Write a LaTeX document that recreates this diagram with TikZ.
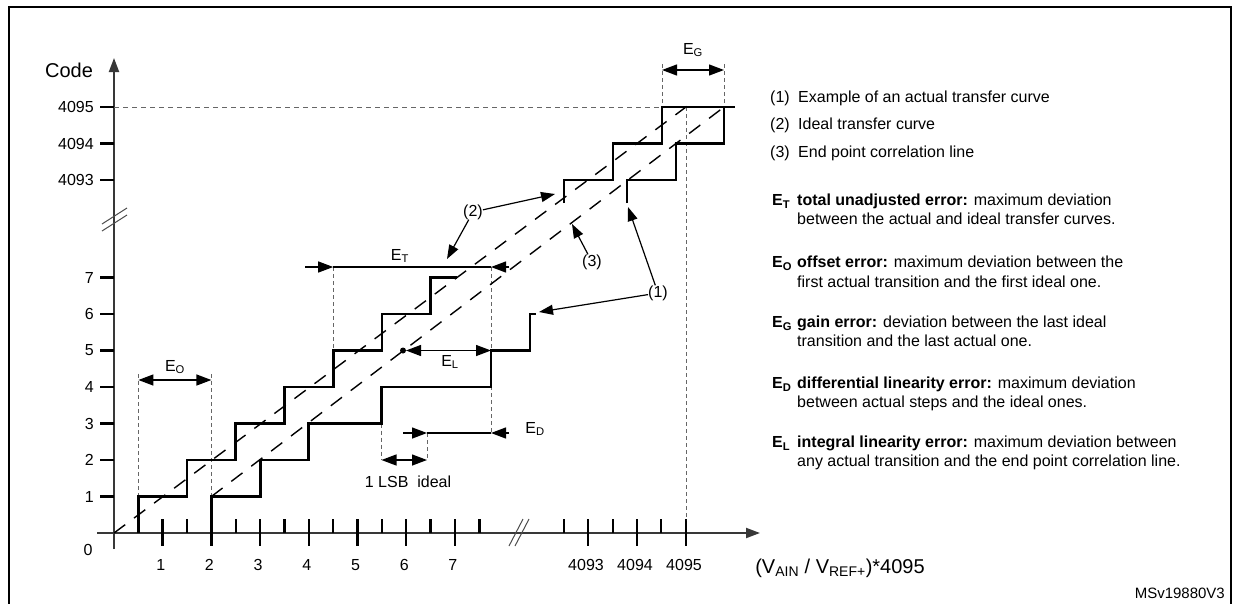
\documentclass[tikz,border=0pt]{standalone}
\usepackage{fontspec}
\setmainfont{Liberation Sans}
\usepackage{tikz}
\usetikzlibrary{arrows.meta}
\tikzset{axis/.style={draw=black!78, line width=2pt}}
\tikzset{stair/.style={draw=black, line width=2.8pt}}
\tikzset{guide/.style={draw=black!60, line width=1pt, dash pattern=on 4pt off 3pt}}
\tikzset{fitline/.style={draw=black, line width=1.4pt, dash pattern=on 14pt off 11pt}}
\tikzset{dim/.style={draw=black, line width=1.3pt}}
\tikzset{tipto/.style={-{Triangle[length=15pt, width=11pt]}}}
\tikzset{tipboth/.style={{Triangle[length=15pt, width=11pt]}-{Triangle[length=15pt, width=11pt]}}}
\tikzset{callout/.style={draw=black, line width=1.2pt, -{Triangle[length=14pt, width=10pt]}}}
\tikzset{lbl/.style={inner sep=0pt, font=\fontsize{16}{19}\selectfont}}
\tikzset{legtext/.style={anchor=base west, inner sep=0pt, font=\fontsize{16}{19}\selectfont}}

\begin{document}
\begin{tikzpicture}[x=1pt, y=-1pt]
		\useasboundingbox (0,0) rectangle (1236,603);
		\draw[line width=2.8pt] (9,604) -- (9,7) -- (1231,7) -- (1231,604);
		
		% axes
		\coordinate (ybot) at (114,549);
		\coordinate (ytop) at (114,58);
		\coordinate (xleft) at (97,533);
		\coordinate (xright) at (760,533);
		\draw[axis, -{Triangle[length=14pt, width=10pt]}] (ybot) -- (ytop);
		\draw[axis, -{Triangle[length=14pt, width=10pt]}] (xleft) -- (xright);
		\node[lbl, font=\fontsize{20}{24}\selectfont] (code) at (69,70) {Code};
		\node[lbl] (yzero) at (88,550) {0};
		\foreach \v/\y in {1/496.5, 2/460, 3/423.5, 4/387, 5/350.5, 6/314, 7/277.5, 4093/180, 4094/143.5, 4095/107} {
			\draw[line width=2.5pt] (100,\y) -- (114,\y);
			\node[lbl, anchor=east] (ylab\v) at (94,\y) {\v};
		}
		\foreach \v/\x in {1/162.7, 2/211.4, 3/260.1, 4/308.8, 5/357.5, 6/406.2, 7/454.9, 4093/588, 4094/637, 4095/686} {
			\draw[line width=2.5pt] (\x,519) -- (\x,546);
			\node[lbl] (xlab\v) at ([xshift=-2pt]\x,565) {\v};
		}
		\foreach \x in {138.4, 187, 235.8, 284.5, 333.2, 381.9, 430.6, 479.3, 564, 613, 661} {
			\draw[line width=2.5pt] (\x,519) -- (\x,533);
		}
		\draw[black!70, line width=1pt] (102,231) -- (127,215) (102,224) -- (127,208);
		\draw[black!70, line width=1pt] (509,546) -- (523,519) (515,546) -- (529,519);
		\node[lbl, font=\fontsize{20}{24}\selectfont] (xtitle) at (840,568) {(V\textsubscript{AIN} / V\textsubscript{REF+})*4095};
		
		% guides
		\draw[guide, dash pattern=on 5pt off 4pt] (114,107) -- (724,107);
		\draw[guide] (138.4,374) -- (138.4,496.5);
		\draw[guide] (211.4,374) -- (211.4,496.5);
		\draw[guide] (333.2,267) -- (333.2,350.5);
		\draw[guide] (491,267) -- (491,433);
		\draw[guide] (381.5,423.5) -- (381.5,460);
		\draw[guide] (427,433) -- (427,460);
		\draw[guide] (662,64) -- (662,107);
		\draw[guide] (724,64) -- (724,107);
		\draw[guide] (686,107) -- (686,520);
		
		% straight lines
		\coordinate (idealA) at (114,533);
		\coordinate (idealB) at (690,104);
		\coordinate (endA) at (211.4,496.5);
		\coordinate (endB) at (724,107);
		\draw[fitline] (idealA) -- (idealB);
		\draw[fitline] (endA) -- (endB);
		
		% staircases
		\draw[stair] (138.4,533) -- (138.4,496.5) -- (187,496.5) -- (187,460) -- (235.8,460) -- (235.8,423.5) -- (284.5,423.5) -- (284.5,387) -- (333.2,387) -- (333.2,350.5) -- (381.9,350.5) -- (381.9,314) -- (430.6,314) -- (430.6,277.5) -- (457,277.5);
		\draw[stair] (564,203) -- (564,180) -- (613,180) -- (613,143.5) -- (662,143.5) -- (662,107) -- (735,107);
		\draw[stair] (211.4,533) -- (211.4,496.5) -- (260.1,496.5) -- (260.1,460) -- (308.8,460) -- (308.8,423.5) -- (381.5,423.5) -- (381.5,387) -- (491,387) -- (491,350.5) -- (530,350.5) -- (530,314) -- (536,314);
		\draw[stair] (627,203) -- (627,180) -- (676,180) -- (676,143.5) -- (724,143.5) -- (724,107);
		
		% error marks
		\draw[dim, tipboth] (138.4,380) -- (211.4,380);
		\node[lbl] (eo) at (175,367) {E\textsubscript{O}};
		\draw[dim, tipto] (305,267) -- (333.2,267);
		\draw[dim] (333.2,267) -- (491,267);
		\draw[dim, tipto] (509,267) -- (491,267);
		\node[lbl] (et) at (400,256) {E\textsubscript{T}};
		\fill (403,350.5) circle (3pt);
		\draw[dim, tipboth] (406,350.5) -- (491,350.5);
		\node[lbl] (el) at (450,362) {E\textsubscript{L}};
		\draw[dim, tipto] (403,433) -- (427,433);
		\draw[dim] (427,433) -- (491,433);
		\draw[dim, tipto] (509,433) -- (491,433);
		\node[lbl] (ed) at (535,429) {E\textsubscript{D}};
		\draw[dim, tipboth] (381.5,460) -- (427,460);
		\node[lbl] (lsb) at (408,482) {1 LSB\ \ ideal};
		\draw[dim, tipboth] (662,70) -- (724,70);
		\node[lbl] (eg) at (693,50) {E\textsubscript{G}};
		
		% callouts
		\node[lbl] (lblone) at (658,293) {(1)};
		\node[lbl] (lbltwo) at (473,212) {(2)};
		\node[lbl] (lblthree) at (592,262) {(3)};
		\coordinate (oneA) at (539,312);
		\coordinate (oneB) at (628,207);
		\coordinate (twoA) at (555,194);
		\coordinate (twoB) at (447,259);
		\coordinate (threeA) at (572,224);
		\draw[callout] (lblone) -- (oneA);
		\draw[callout] (lblone) -- (oneB);
		\draw[callout] (lbltwo) -- (twoA);
		\draw[callout] (lbltwo) -- (twoB);
		\draw[callout] (lblthree) -- (threeA);
		
		% legend
		\node[legtext] (keyone) at (770,102.5) {(1)};
		\node[legtext] (txtone) at (798,102.5) {Example of an actual transfer curve};
		\node[legtext] (keytwo) at (770,129.5) {(2)};
		\node[legtext] (txttwo) at (798,129.5) {Ideal transfer curve};
		\node[legtext] (keythree) at (770,157.5) {(3)};
		\node[legtext] (txtthree) at (798,157.5) {End point correlation line};
		
		\node[legtext] (keyt) at (772,205.5) {\textbf{E\textsubscript{T}}};
		\node[legtext] (txtt) at (797,205.5) {\textbf{total unadjusted error:} maximum deviation};
		\node[legtext] (txtt2) at (797,224.5) {between the actual and ideal transfer curves.};
		\node[legtext] (keyo) at (772,267.5) {\textbf{E\textsubscript{O}}};
		\node[legtext] (txto) at (797,267.5) {\textbf{offset error:} maximum deviation between the};
		\node[legtext] (txto2) at (797,287.5) {first actual transition and the first ideal one.};
		\node[legtext] (keyg) at (772,327.5) {\textbf{E\textsubscript{G}}};
		\node[legtext] (txtg) at (797,327.5) {\textbf{gain error:} deviation between the last ideal};
		\node[legtext] (txtg2) at (797,346.5) {transition and the last actual one.};
		\node[legtext] (keyd) at (772,388.5) {\textbf{E\textsubscript{D}}};
		\node[legtext] (txtd) at (797,388.5) {\textbf{differential linearity error:} maximum deviation};
		\node[legtext] (txtd2) at (797,407.5) {between actual steps and the ideal ones.};
		\node[legtext] (keyl) at (772,447.5) {\textbf{E\textsubscript{L}}};
		\node[legtext] (txtl) at (797,447.5) {\textbf{integral linearity error:} maximum deviation between};
		\node[legtext] (txtl2) at (797,466.5) {any actual transition and the end point correlation line.};
		
		\node[lbl, anchor=east, font=\fontsize{15}{18}\selectfont] (ref) at (1225,593) {MSv19880V3};
	\end{tikzpicture}
\end{document}
